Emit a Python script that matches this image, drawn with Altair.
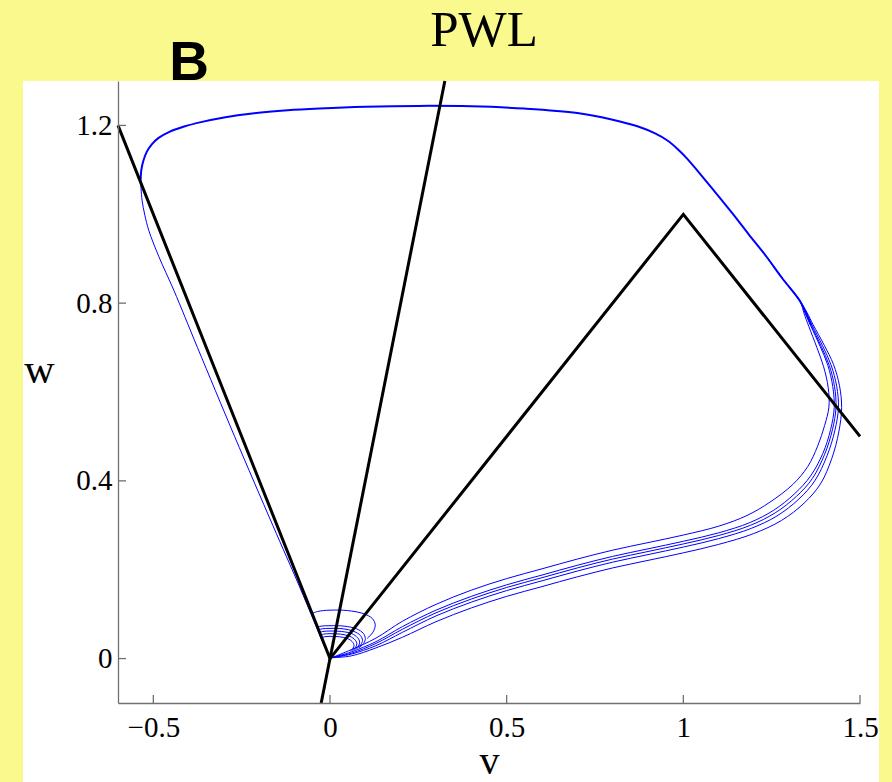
import altair as alt
import pandas as pd

# ---------------- data ----------------
title_text = "PWL"
panel_label = "B"
x_title = "v"
y_title = "w"
x_ticks = [-0.5, 0, 0.5, 1, 1.5]
y_ticks = [0, 0.4, 0.8, 1.2]

# nullclines (black)
vnull_v = [-0.6, 0.0, 1.0, 1.5]
vnull_w = [1.2, 0.0, 1.0, 0.5]
wnull_v = [-0.025, 0.325]
wnull_w = [-0.1, 1.3]

# limit cycle, shared upper part (thick)
top_v = [1.362, 1.347, 1.33, 1.28, 1.235, 1.185, 1.139, 1.09, 1.045, 1.01, 0.985, 0.955, 0.92, 0.87,
         0.80, 0.70, 0.55, 0.40, 0.25, 0.10, -0.03, -0.12, -0.22, -0.30, -0.362, -0.415, -0.456,
         -0.485, -0.505, -0.519, -0.528, -0.534, -0.536]
top_w = [0.750, 0.778, 0.805, 0.856, 0.905, 0.955, 1.002, 1.050, 1.093, 1.126, 1.146, 1.166, 1.182,
         1.198, 1.213, 1.228, 1.238, 1.243, 1.244, 1.242, 1.238, 1.234, 1.227, 1.218, 1.208, 1.197,
         1.185, 1.172, 1.157, 1.140, 1.121, 1.100, 1.076]

# left branch down to origin
left_v = [-0.536, -0.532, -0.524, -0.513, -0.484, -0.442, -0.375, -0.27, -0.162, -0.088, -0.043, -0.012, 0.005]
left_w = [1.076, 1.032, 0.998, 0.964, 0.904, 0.829, 0.700, 0.500, 0.300, 0.165, 0.080, 0.022, 0.002]

# lower / right bundle of loops
b0_v = [0.005, 0.06, 0.13, 0.205, 0.30, 0.40, 0.50, 0.60, 0.70, 0.80, 0.90, 1.00, 1.10, 1.18, 1.245,
        1.31, 1.352, 1.380, 1.400, 1.412, 1.410, 1.397, 1.378, 1.355, 1.342, 1.33, 1.28, 1.235]
b0_w = [0.002, 0.020, 0.046, 0.084, 0.122, 0.154, 0.180, 0.202, 0.224, 0.244, 0.261, 0.278, 0.298,
        0.322, 0.352, 0.392, 0.432, 0.478, 0.525, 0.566, 0.610, 0.657, 0.700, 0.748, 0.776, 0.805,
        0.856, 0.905]
b1_v = [0.005, 0.06, 0.13, 0.205, 0.30, 0.40, 0.50, 0.60, 0.70, 0.80, 0.90, 1.00, 1.10, 1.188, 1.256,
        1.315, 1.360, 1.395, 1.417, 1.427, 1.423, 1.409, 1.387, 1.360, 1.345, 1.33, 1.28, 1.235]
b1_w = [0.002, 0.015, 0.038, 0.072, 0.109, 0.140, 0.166, 0.188, 0.210, 0.230, 0.247, 0.264, 0.283,
        0.306, 0.334, 0.371, 0.411, 0.462, 0.516, 0.565, 0.612, 0.660, 0.703, 0.750, 0.777, 0.805,
        0.856, 0.905]
b2_v = [0.005, 0.06, 0.13, 0.205, 0.30, 0.40, 0.50, 0.60, 0.70, 0.80, 0.90, 1.00, 1.10, 1.19, 1.26,
        1.32, 1.365, 1.40, 1.422, 1.432, 1.428, 1.413, 1.390, 1.362, 1.347, 1.33, 1.28, 1.235]
b2_w = [0.002, 0.012, 0.034, 0.066, 0.103, 0.134, 0.160, 0.182, 0.204, 0.224, 0.241, 0.258, 0.277,
        0.300, 0.328, 0.365, 0.405, 0.460, 0.515, 0.565, 0.612, 0.660, 0.703, 0.750, 0.778, 0.805,
        0.856, 0.905]
b3_v = [0.005, 0.06, 0.13, 0.205, 0.30, 0.40, 0.50, 0.60, 0.70, 0.80, 0.90, 1.00, 1.10, 1.192, 1.265,
        1.327, 1.372, 1.407, 1.429, 1.439, 1.434, 1.418, 1.394, 1.364, 1.348, 1.33, 1.28, 1.235]
b3_w = [0.002, 0.010, 0.029, 0.059, 0.096, 0.127, 0.153, 0.175, 0.197, 0.217, 0.234, 0.251, 0.270,
        0.293, 0.321, 0.359, 0.400, 0.457, 0.514, 0.565, 0.613, 0.661, 0.704, 0.751, 0.778, 0.805,
        0.856, 0.905]
b4_v = [0.005, 0.06, 0.13, 0.205, 0.30, 0.40, 0.50, 0.60, 0.70, 0.80, 0.90, 1.00, 1.10, 1.198, 1.278,
        1.342, 1.388, 1.420, 1.440, 1.448, 1.442, 1.425, 1.399, 1.367, 1.350, 1.33, 1.28, 1.235]
b4_w = [0.002, 0.006, 0.024, 0.048, 0.083, 0.114, 0.140, 0.162, 0.184, 0.204, 0.221, 0.238, 0.257,
        0.281, 0.311, 0.350, 0.393, 0.450, 0.510, 0.565, 0.614, 0.662, 0.705, 0.752, 0.779, 0.805,
        0.856, 0.905]

# small arcs near the origin
a0_v = [-0.052, -0.035, 0.000, 0.050, 0.095, 0.120, 0.128, 0.122, 0.105]
a0_w = [0.101, 0.106, 0.109, 0.108, 0.101, 0.090, 0.076, 0.060, 0.045]
a1_v = [-0.038, -0.025, 0.000, 0.040, 0.075, 0.094, 0.100, 0.095, 0.082]
a1_w = [0.070, 0.073, 0.074, 0.073, 0.067, 0.057, 0.045, 0.034, 0.024]
a2_v = [-0.035, -0.022, 0.000, 0.037, 0.068, 0.086, 0.092, 0.087, 0.075]
a2_w = [0.064, 0.067, 0.068, 0.067, 0.061, 0.052, 0.041, 0.031, 0.022]
a3_v = [-0.032, -0.020, 0.000, 0.033, 0.062, 0.078, 0.084, 0.080, 0.069]
a3_w = [0.058, 0.061, 0.062, 0.061, 0.056, 0.047, 0.037, 0.028, 0.020]
a4_v = [-0.029, -0.018, 0.000, 0.030, 0.056, 0.071, 0.076, 0.072, 0.063]
a4_w = [0.052, 0.055, 0.056, 0.055, 0.050, 0.042, 0.033, 0.025, 0.018]
a5_v = [-0.026, -0.016, 0.000, 0.027, 0.050, 0.063, 0.068, 0.065, 0.057]
a5_w = [0.046, 0.049, 0.050, 0.049, 0.045, 0.038, 0.030, 0.023, 0.016]


def to_df(segs):
    rows = []
    for name, vs, ws in segs:
        for i, (a, b) in enumerate(zip(vs, ws)):
            rows.append({"seg": name, "i": i, "v": a, "w": b})
    return pd.DataFrame(rows)


thin_df = to_df([
    ("left", left_v, left_w),
    ("b0", b0_v, b0_w), ("b1", b1_v, b1_w), ("b2", b2_v, b2_w),
    ("b3", b3_v, b3_w), ("b4", b4_v, b4_w),
    ("a0", a0_v, a0_w), ("a1", a1_v, a1_w), ("a2", a2_v, a2_w),
    ("a3", a3_v, a3_w), ("a4", a4_v, a4_w), ("a5", a5_v, a5_w),
])
thick_df = to_df([("top", top_v, top_w)])
black_df = to_df([("vn", vnull_v, vnull_w), ("wn", wnull_v, wnull_w)])

W, H = 742, 622
BG = "#F9F98E"
AX = "#707070"

xs = alt.Scale(domain=[-0.6, 1.5], nice=False, zero=False)
ys = alt.Scale(domain=[-0.1, 1.3], nice=False, zero=False)

xaxis = alt.Axis(values=x_ticks, format=".1~f", labelFont="Liberation Serif", labelFontSize=29,
                 labelColor="black", labelPadding=10, ticks=False, tickSize=0, grid=False,
                 domainColor=AX, domainWidth=1.3, labelFlush=False, zindex=1,
                 title=x_title, titleFont="Liberation Serif", titleFontSize=40,
                 titleFontWeight="normal", titleColor="black", titleBaseline="alphabetic",
                 titleAlign="center", titleX=371, titleY=70)
yaxis = alt.Axis(values=y_ticks, format=".1~f", labelFont="Liberation Serif", labelFontSize=29,
                 labelColor="black", labelPadding=6, ticks=False, tickSize=0, grid=False,
                 domainColor=AX, domainWidth=1.3, labelFlush=False, zindex=1,
                 title=y_title, titleFont="Liberation Serif", titleFontSize=42,
                 titleFontWeight="normal", titleColor="black", titleAngle=0,
                 titleBaseline="alphabetic", titleAlign="center", titleX=-79, titleY=301)

X = alt.X("v:Q", scale=xs, axis=xaxis)
Y = alt.Y("w:Q", scale=ys, axis=yaxis)

panel = alt.Chart(pd.DataFrame({"a": [0]})).mark_rect(color="white").encode(
    x=alt.value(-95), x2=alt.value(761), y=alt.value(0), y2=alt.value(701))

thin = alt.Chart(thin_df).mark_line(color="#0000FF", strokeWidth=1.0, interpolate="catmull-rom").encode(
    x=X, y=Y, detail="seg:N", order="i:Q")

thick = alt.Chart(thick_df).mark_line(color="#0000FF", strokeWidth=2.0, interpolate="catmull-rom").encode(
    x=X, y=Y, detail="seg:N", order="i:Q")

black = alt.Chart(black_df).mark_line(color="black", strokeWidth=3.0).encode(
    x=X, y=Y, detail="seg:N", order="i:Q")

xt = alt.Chart(pd.DataFrame({"v": x_ticks})).mark_rule(color=AX, strokeWidth=1.3).encode(
    x=X, y=alt.value(H), y2=alt.value(H - 8))
yt = alt.Chart(pd.DataFrame({"w": y_ticks})).mark_rule(color=AX, strokeWidth=1.3).encode(
    y=Y, x=alt.value(0), x2=alt.value(8))

title = alt.Chart(pd.DataFrame({"t": [title_text]})).mark_text(
    font="Liberation Serif", fontSize=51, align="center", baseline="alphabetic", color="black"
).encode(text="t:N", x=alt.value(366), y=alt.value(-35))

blabel = alt.Chart(pd.DataFrame({"t": [panel_label]})).mark_text(
    font="Liberation Sans", fontSize=55, fontWeight="bold", align="center",
    baseline="alphabetic", color="black"
).encode(text="t:N", x=alt.value(71), y=alt.value(-1))

chart = alt.layer(panel, thin, thick, black, xt, yt, title, blabel).properties(
    width=W, height=H,
    autosize=alt.AutoSizeParams(type="none"),
    padding={"left": 118, "top": 81, "right": 32, "bottom": 79},
    background=BG,
).configure_view(strokeWidth=0)

chart.save("out.html", embed_options={"renderer": "svg", "actions": False})
